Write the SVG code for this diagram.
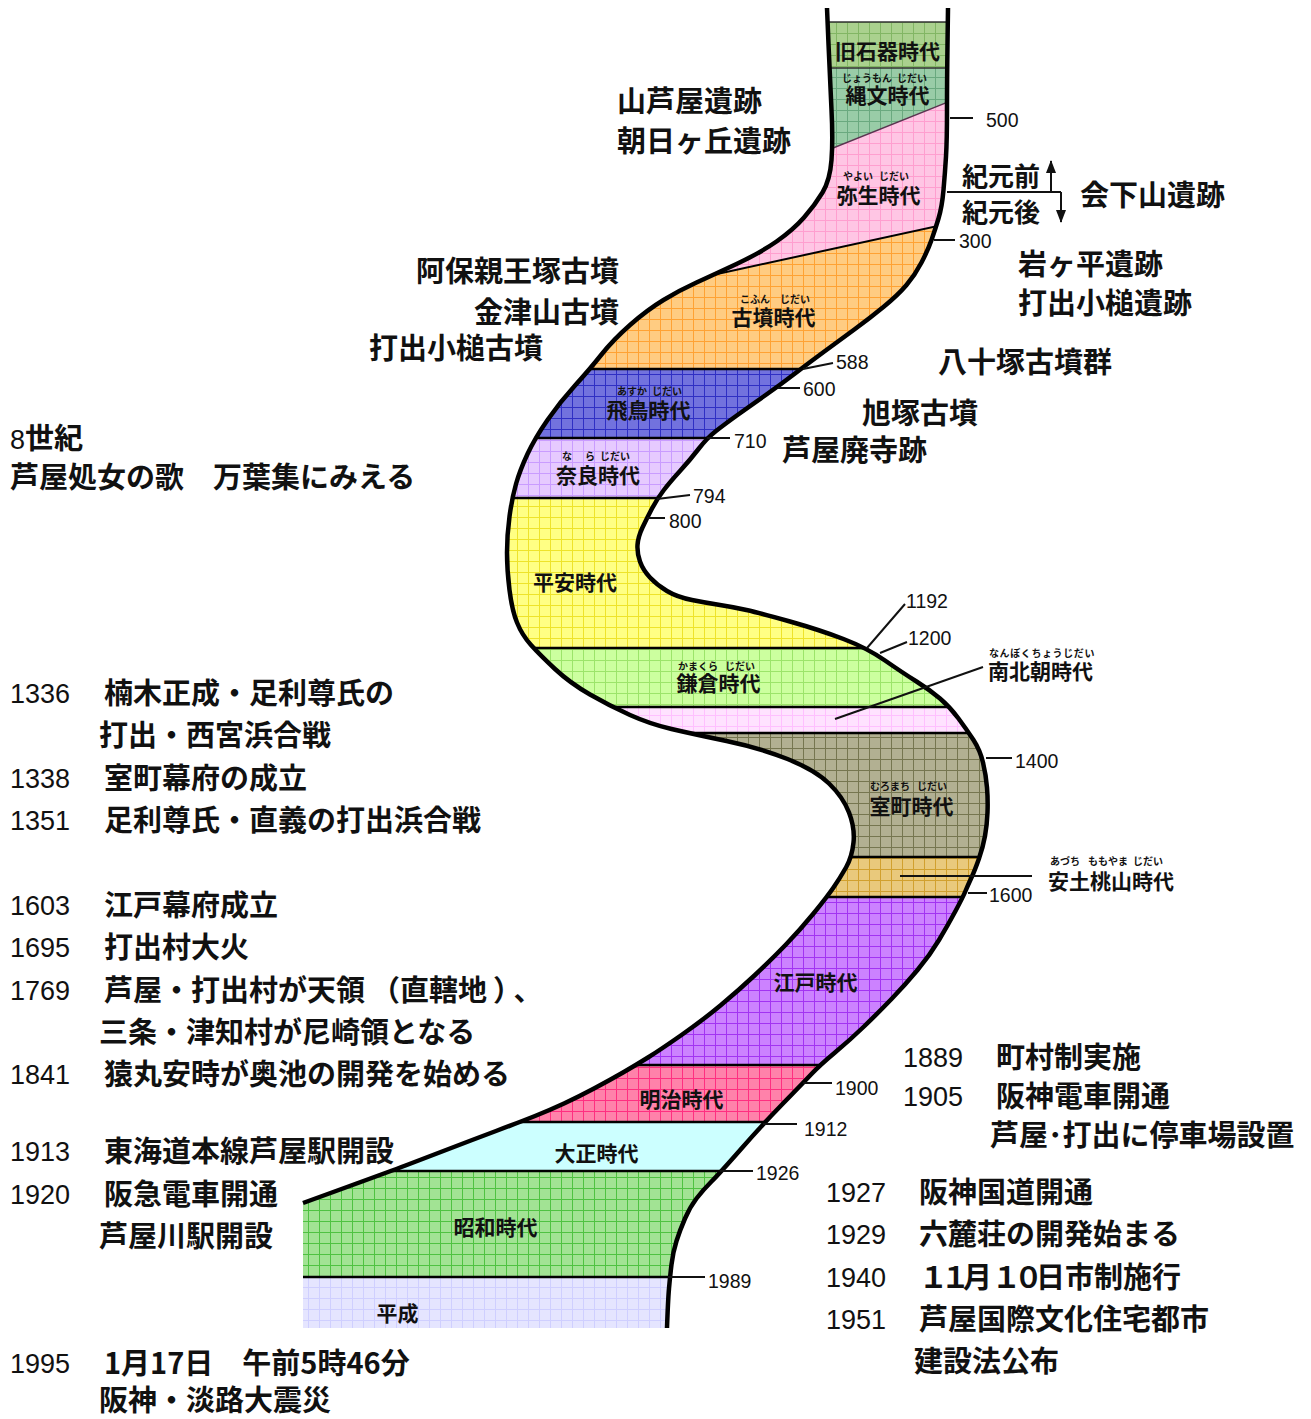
<svg xmlns="http://www.w3.org/2000/svg" width="1311" height="1419" viewBox="0 0 1311 1419">
<style>
.jp{font-family:"Noto Sans CJK JP","Noto Sans CJK SC",sans-serif;font-weight:700;fill:#111}
.ev{font-size:29px}
.era{font-size:21px;text-anchor:middle}
.eraL{font-size:21px}
.rb{font-size:10px}
.yr{font-family:"Liberation Sans",Arial,sans-serif;font-size:27px;fill:#111;font-weight:400}
.tk{font-family:"Liberation Sans",Arial,sans-serif;font-size:19.5px;fill:#111}
.tick{stroke:#111;stroke-width:2;fill:none}
.edge{stroke:#000;stroke-width:4.5;fill:none}
.dv{stroke:#000;stroke-width:2.5}
</style>
<defs>
<clipPath id="cL"><path d="M827,8 L828.5,44 Q830,80 831.5,110 Q833,140 831.5,160 Q830,180 822.5,192.5 Q815,205 804,217.5 Q793,230 776.5,241.5 Q760,253 736.5,264 Q713,275 696.5,282.5 Q680,290 663.5,300 Q647,310 630,325 Q613,340 601.5,354.5 Q590,369 575,385.5 Q560,402 547.5,420 Q535,438 527.5,454 Q520,470 516,484 Q512,498 509.5,516.5 Q507,535 507,552.5 Q507,570 509.5,590 Q512,610 517,622.5 Q522,635 531,645 Q540,655 555,669 Q570,683 590,694.5 Q610,706 630,715 Q650,724 671.5,729 Q693,734 726.5,741 Q760,748 787.5,759 Q815,770 829,783.5 Q843,797 849,812.5 Q855,828 853.5,842.5 Q852,857 846,867.5 Q840,878 833.5,887.5 Q827,897 813.5,913.5 Q800,930 785.5,945 Q771,960 755,975 Q739,990 721,1005 Q703,1020 681.5,1035 Q660,1050 648,1057.5 Q636,1065 623,1072.5 Q610,1080 594,1088.5 Q578,1097 564,1103.5 Q550,1110 535,1116 Q520,1122 496,1131 Q472,1140 446,1150 Q420,1160 405.5,1165.5 Q391,1171 347,1187 L303,1203 L303,1328 L1311,1328 L1311,0 Z"/></clipPath>
<clipPath id="cR"><path d="M948,8 L947.5,44 Q947,80 947,110 Q947,140 946,156.5 Q945,173 943.5,190 Q942,207 938.5,218.5 Q935,230 931.5,240 Q928,250 921.5,262.5 Q915,275 906.5,285 Q898,295 884,306.5 Q870,318 855,329 Q840,340 825,351 Q810,362 795,373.5 Q780,385 765,395.5 Q750,406 737.5,415 Q725,424 716,431 Q707,438 698.5,449 Q690,460 680,471 Q670,482 663.5,490.5 Q657,499 652,508.5 Q647,518 642.5,527.5 Q638,537 637.5,545 Q637,553 640,561.5 Q643,570 650,577.5 Q657,585 667,591 Q677,597 692,600 Q707,603 720,605 Q733,607 746.5,610 Q760,613 790,621.5 Q820,630 843.5,639 Q867,648 885,660.5 Q903,673 916.5,681.5 Q930,690 940,698.5 Q950,707 958.5,718.5 Q967,730 973.5,740 Q980,750 983,762.5 Q986,775 987,787.5 Q988,800 987.5,812.5 Q987,825 985,836 Q983,847 979,858.5 Q975,870 971.5,877.5 Q968,885 965.5,891 Q963,897 955.5,911 Q948,925 939,940 Q930,955 917.5,970 Q905,985 891.5,999 Q878,1013 864,1026.5 Q850,1040 835,1052.5 Q820,1065 811.5,1074 Q803,1083 783,1103.5 Q763,1124 741.5,1148.5 Q720,1173 711.5,1181.5 Q703,1190 696.5,1198.5 Q690,1207 685,1218.5 Q680,1230 676.5,1241 Q673,1252 671.5,1264.5 Q670,1277 669,1288.5 Q668,1300 667,1328 L0,1328 L0,0 Z"/></clipPath>
<pattern id="g1" width="11" height="11" patternUnits="userSpaceOnUse"><rect width="11" height="11" fill="#aad18e"/><path d="M0,0.5H11M0.5,0V11" stroke="#82b664"/></pattern>
<pattern id="g2" width="11" height="11" patternUnits="userSpaceOnUse"><rect width="11" height="11" fill="#99cca7"/><path d="M0,0.5H11M0.5,0V11" stroke="#6aa97f"/></pattern>
<pattern id="g3" width="11" height="11" patternUnits="userSpaceOnUse"><rect width="11" height="11" fill="#ffc6e4"/><path d="M0,0.5H11M0.5,0V11" stroke="#ff9fcf"/></pattern>
<pattern id="g4" width="11" height="11" patternUnits="userSpaceOnUse"><rect width="11" height="11" fill="#ffcc82"/><path d="M0,0.5H11M0.5,0V11" stroke="#ffa234"/></pattern>
<pattern id="g5" width="11" height="11" patternUnits="userSpaceOnUse"><rect width="11" height="11" fill="#7272de"/><path d="M0,0.5H11M0.5,0V11" stroke="#2f2fc4"/></pattern>
<pattern id="g6" width="11" height="11" patternUnits="userSpaceOnUse"><rect width="11" height="11" fill="#e6caff"/><path d="M0,0.5H11M0.5,0V11" stroke="#c99cff"/></pattern>
<pattern id="g7" width="11" height="11" patternUnits="userSpaceOnUse"><rect width="11" height="11" fill="#ffff84"/><path d="M0,0.5H11M0.5,0V11" stroke="#eee32a"/></pattern>
<pattern id="g8" width="11" height="11" patternUnits="userSpaceOnUse"><rect width="11" height="11" fill="#ccff9f"/><path d="M0,0.5H11M0.5,0V11" stroke="#9ce46a"/></pattern>
<pattern id="g9" width="11" height="11" patternUnits="userSpaceOnUse"><rect width="11" height="11" fill="#ffe2ff"/><path d="M0,0.5H11M0.5,0V11" stroke="#ffc0ff"/></pattern>
<pattern id="g10" width="11" height="11" patternUnits="userSpaceOnUse"><rect width="11" height="11" fill="#b2b092"/><path d="M0,0.5H11M0.5,0V11" stroke="#767650"/></pattern>
<pattern id="g11" width="11" height="11" patternUnits="userSpaceOnUse"><rect width="11" height="11" fill="#e9c97c"/><path d="M0,0.5H11M0.5,0V11" stroke="#d1a02e"/></pattern>
<pattern id="g12" width="11" height="11" patternUnits="userSpaceOnUse"><rect width="11" height="11" fill="#cc82ff"/><path d="M0,0.5H11M0.5,0V11" stroke="#a233f2"/></pattern>
<pattern id="g13" width="11" height="11" patternUnits="userSpaceOnUse"><rect width="11" height="11" fill="#ff82aa"/><path d="M0,0.5H11M0.5,0V11" stroke="#ff2f80"/></pattern>
<pattern id="g15" width="11" height="11" patternUnits="userSpaceOnUse"><rect width="11" height="11" fill="#a2e394"/><path d="M0,0.5H11M0.5,0V11" stroke="#4fc242"/></pattern>
<pattern id="g16" width="11" height="11" patternUnits="userSpaceOnUse"><rect width="11" height="11" fill="#e5e5ff"/><path d="M0,0.5H11M0.5,0V11" stroke="#cfcfff"/></pattern>
<marker id="ah" viewBox="0 0 13 10" refX="12" refY="5" markerWidth="13" markerHeight="10" markerUnits="userSpaceOnUse" orient="auto"><path d="M0,0 L13,5 L0,10 Z" fill="#111"/></marker>
</defs>

<g id="bands" clip-path="url(#cL)">
<g clip-path="url(#cR)">
<g id="era-kyusekki"><rect x="780" y="22" width="240" height="46" fill="url(#g1)"/></g>
<g id="era-jomon"><polygon points="780,68 1020,68 1020,73.2 780,181.2" fill="url(#g2)"/></g>
<g id="era-yayoi"><polygon points="650,221.2 1020,73.2 1020,208 650,288.7" fill="url(#g3)"/></g>
<g id="era-kofun"><polygon points="480,325.8 1020,208 1020,369 480,369" fill="url(#g4)"/></g>
<g id="era-asuka"><rect x="400" y="369" width="650" height="69" fill="url(#g5)"/></g>
<g id="era-nara"><rect x="400" y="438" width="650" height="60" fill="url(#g6)"/></g>
<g id="era-heian"><rect x="400" y="498" width="650" height="150" fill="url(#g7)"/></g>
<g id="era-kamakura"><rect x="400" y="648" width="650" height="59" fill="url(#g8)"/></g>
<g id="era-nanbokucho"><rect x="400" y="707" width="650" height="26" fill="url(#g9)"/></g>
<g id="era-muromachi"><rect x="400" y="733" width="650" height="124" fill="url(#g10)"/></g>
<g id="era-azuchimomoyama"><rect x="400" y="857" width="650" height="40" fill="url(#g11)"/></g>
<g id="era-edo"><rect x="250" y="897" width="800" height="168" fill="url(#g12)"/></g>
<g id="era-meiji"><rect x="250" y="1065" width="800" height="57" fill="url(#g13)"/></g>
<g id="era-taisho"><rect x="250" y="1122" width="800" height="49" fill="#ccffff"/></g>
<g id="era-showa"><rect x="250" y="1171" width="800" height="106" fill="url(#g15)"/></g>
<g id="era-heisei"><rect x="250" y="1277" width="800" height="51" fill="url(#g16)"/></g>
<g id="dividers">
<path d="M780,22H1020M780,68H1020" stroke="#333" stroke-width="1.5"/>
<path d="M780,169.2L1020,73.2" stroke="#5a3550" stroke-width="1.5"/>
<path d="M650,288.7L1020,208" stroke="#000" stroke-width="2"/>
<path class="dv" d="M400,369H1050M400,438H1050M400,498H1050M400,648H1050M400,707H1050M400,733H1050M400,857H1050M400,897H1050M250,1065H1050M250,1122H1050M250,1171H1050M250,1277H1050"/>
</g>
</g>
</g>

<g id="edges">
<path class="edge" d="M827,8 L828.5,44 Q830,80 831.5,110 Q833,140 831.5,160 Q830,180 822.5,192.5 Q815,205 804,217.5 Q793,230 776.5,241.5 Q760,253 736.5,264 Q713,275 696.5,282.5 Q680,290 663.5,300 Q647,310 630,325 Q613,340 601.5,354.5 Q590,369 575,385.5 Q560,402 547.5,420 Q535,438 527.5,454 Q520,470 516,484 Q512,498 509.5,516.5 Q507,535 507,552.5 Q507,570 509.5,590 Q512,610 517,622.5 Q522,635 531,645 Q540,655 555,669 Q570,683 590,694.5 Q610,706 630,715 Q650,724 671.5,729 Q693,734 726.5,741 Q760,748 787.5,759 Q815,770 829,783.5 Q843,797 849,812.5 Q855,828 853.5,842.5 Q852,857 846,867.5 Q840,878 833.5,887.5 Q827,897 813.5,913.5 Q800,930 785.5,945 Q771,960 755,975 Q739,990 721,1005 Q703,1020 681.5,1035 Q660,1050 648,1057.5 Q636,1065 623,1072.5 Q610,1080 594,1088.5 Q578,1097 564,1103.5 Q550,1110 535,1116 Q520,1122 496,1131 Q472,1140 446,1150 Q420,1160 405.5,1165.5 Q391,1171 347,1187 L303,1203"/>
<path class="edge" d="M948,8 L947.5,44 Q947,80 947,110 Q947,140 946,156.5 Q945,173 943.5,190 Q942,207 938.5,218.5 Q935,230 931.5,240 Q928,250 921.5,262.5 Q915,275 906.5,285 Q898,295 884,306.5 Q870,318 855,329 Q840,340 825,351 Q810,362 795,373.5 Q780,385 765,395.5 Q750,406 737.5,415 Q725,424 716,431 Q707,438 698.5,449 Q690,460 680,471 Q670,482 663.5,490.5 Q657,499 652,508.5 Q647,518 642.5,527.5 Q638,537 637.5,545 Q637,553 640,561.5 Q643,570 650,577.5 Q657,585 667,591 Q677,597 692,600 Q707,603 720,605 Q733,607 746.5,610 Q760,613 790,621.5 Q820,630 843.5,639 Q867,648 885,660.5 Q903,673 916.5,681.5 Q930,690 940,698.5 Q950,707 958.5,718.5 Q967,730 973.5,740 Q980,750 983,762.5 Q986,775 987,787.5 Q988,800 987.5,812.5 Q987,825 985,836 Q983,847 979,858.5 Q975,870 971.5,877.5 Q968,885 965.5,891 Q963,897 955.5,911 Q948,925 939,940 Q930,955 917.5,970 Q905,985 891.5,999 Q878,1013 864,1026.5 Q850,1040 835,1052.5 Q820,1065 811.5,1074 Q803,1083 783,1103.5 Q763,1124 741.5,1148.5 Q720,1173 711.5,1181.5 Q703,1190 696.5,1198.5 Q690,1207 685,1218.5 Q680,1230 676.5,1241 Q673,1252 671.5,1264.5 Q670,1277 669,1288.5 Q668,1300 667,1328"/>
</g>

<g id="era-labels" class="jp">
<text class="era" x="887.5" y="58.5">旧石器時代</text>
<text class="rb" x="842" y="82">じょうもん</text><text class="rb" x="897" y="82">じだい</text>
<text class="era" x="887.5" y="102.5">縄文時代</text>
<text class="rb" x="843" y="180">やよい</text><text class="rb" x="879" y="180">じだい</text>
<text class="era" x="878.5" y="202.5">弥生時代</text>
<text class="rb" x="740" y="303">こふん</text><text class="rb" x="780" y="303">じだい</text>
<text class="era" x="773.5" y="324.5">古墳時代</text>
<text class="rb" x="617" y="395">あすか</text><text class="rb" x="652" y="395">じだい</text>
<text class="era" x="648.5" y="417.5">飛鳥時代</text>
<text class="rb" x="562" y="460">な</text><text class="rb" x="585" y="460">ら</text><text class="rb" x="600" y="460">じだい</text>
<text class="era" x="598" y="482.5">奈良時代</text>
<text class="era" x="575" y="590">平安時代</text>
<text class="rb" x="678" y="670">かまくら</text><text class="rb" x="725" y="670">じだい</text>
<text class="era" x="718.5" y="690.5">鎌倉時代</text>
<text class="rb" x="870" y="790">むろまち</text><text class="rb" x="917" y="790">じだい</text>
<text class="era" x="911.5" y="813.5">室町時代</text>
<text class="era" x="815.5" y="990">江戸時代</text>
<text class="era" x="681.5" y="1107">明治時代</text>
<text class="era" x="596.5" y="1161">大正時代</text>
<text class="era" x="495.5" y="1235">昭和時代</text>
<text class="era" x="397.5" y="1321">平成</text>
</g>

<g id="label-nanbokucho" class="jp">
<text class="rb" x="989" y="657" letter-spacing="0.6">なんぼくちょうじだい</text>
<text class="eraL" x="988" y="679">南北朝時代</text>
</g>
<g id="label-azuchimomoyama" class="jp">
<text class="rb" x="1050" y="865">あづち</text><text class="rb" x="1088" y="865">ももやま</text><text class="rb" x="1133" y="865">じだい</text>
<text class="eraL" x="1048" y="888.5">安土桃山時代</text>
</g>

<g id="connectors" fill="none" stroke="#111">
<path stroke-width="2" d="M835,719 L983,667"/>
<path stroke-width="2" d="M900,876 H1032"/>
<path stroke-width="2" d="M947,192 H1061"/>
<path stroke-width="2" d="M1051,192 V161" marker-end="url(#ah)"/>
<path stroke-width="2" d="M1061,192 V222" marker-end="url(#ah)"/>
</g>

<g id="ticks">
<path class="tick" d="M950,118H973M934,240H955M803,369L833,363M778,388H800M707,438H730M657,499L690,495M647,518H665M867,648L905,604M880,653L907,642M986,758H1012M968,893H987M803,1083H832M763,1124H797M720,1171H753M668,1277H705"/>
<text class="tk" x="986" y="127">500</text>
<text class="tk" x="959" y="248">300</text>
<text class="tk" x="836" y="369">588</text>
<text class="tk" x="803" y="396">600</text>
<text class="tk" x="734" y="448">710</text>
<text class="tk" x="693" y="503">794</text>
<text class="tk" x="669" y="528">800</text>
<text class="tk" x="906" y="608">1192</text>
<text class="tk" x="908" y="645">1200</text>
<text class="tk" x="1015" y="768">1400</text>
<text class="tk" x="989" y="902">1600</text>
<text class="tk" x="835" y="1095">1900</text>
<text class="tk" x="804" y="1136">1912</text>
<text class="tk" x="756" y="1180">1926</text>
<text class="tk" x="708" y="1288">1989</text>
</g>

<g id="kigen" class="jp">
<text x="962" y="186" font-size="26">紀元前</text>
<text x="962" y="222" font-size="26">紀元後</text>
</g>

<g id="sites" class="jp ev">
<text x="617" y="112">山芦屋遺跡</text>
<text x="617" y="152">朝日ヶ丘遺跡</text>
<text x="1080" y="206">会下山遺跡</text>
<text x="1018" y="275">岩ヶ平遺跡</text>
<text x="1018" y="314">打出小槌遺跡</text>
<text x="416" y="282">阿保親王塚古墳</text>
<text x="474" y="323">金津山古墳</text>
<text x="369" y="359">打出小槌古墳</text>
<text x="938" y="373">八十塚古墳群</text>
<text x="862" y="424">旭塚古墳</text>
<text x="782" y="461">芦屋廃寺跡</text>
<text x="10" y="449"><tspan class="yr">8</tspan>世紀</text>
<text x="10" y="488">芦屋処女の歌　万葉集にみえる</text>
</g>

<g id="events-left">
<text class="yr" x="10" y="703">1336</text><text class="jp ev" x="104" y="704">楠木正成・足利尊氏の</text>
<text class="jp ev" x="99" y="746">打出・西宮浜合戦</text>
<text class="yr" x="10" y="788">1338</text><text class="jp ev" x="104" y="789">室町幕府の成立</text>
<text class="yr" x="10" y="830">1351</text><text class="jp ev" x="104" y="831">足利尊氏・直義の打出浜合戦</text>
<text class="yr" x="10" y="915">1603</text><text class="jp ev" x="104" y="916">江戸幕府成立</text>
<text class="yr" x="10" y="957">1695</text><text class="jp ev" x="104" y="958">打出村大火</text>
<text class="yr" x="10" y="1000">1769</text><text class="jp ev" x="104" y="1001">芦屋・打出村が天<tspan letter-spacing="6">領</tspan>（直轄<tspan letter-spacing="6">地</tspan><tspan letter-spacing="6">）</tspan>、</text>
<text class="jp ev" x="99" y="1043">三条・津知村が尼崎領となる</text>
<text class="yr" x="10" y="1084">1841</text><text class="jp ev" x="104" y="1085">猿丸安時が奥池の開発を始める</text>
<text class="yr" x="10" y="1161">1913</text><text class="jp ev" x="104" y="1162">東海道本線芦屋駅開設</text>
<text class="yr" x="10" y="1204">1920</text><text class="jp ev" x="104" y="1205">阪急電車開通</text>
<text class="jp ev" x="99" y="1247">芦屋川駅開設</text>
<text class="yr" x="10" y="1373">1995</text><text class="jp ev" x="104" y="1374">1月17日　午前5時46分</text>
<text class="jp ev" x="99" y="1411">阪神・淡路大震災</text>
</g>

<g id="events-right">
<text class="yr" x="903" y="1067">1889</text><text class="jp ev" x="996" y="1068">町村制実施</text>
<text class="yr" x="903" y="1106">1905</text><text class="jp ev" x="996" y="1107">阪神電車開通</text>
<text class="jp ev" x="990" y="1146">芦屋･打出に停車場設置</text>
<text class="yr" x="826" y="1202">1927</text><text class="jp ev" x="919" y="1203">阪神国道開通</text>
<text class="yr" x="826" y="1244">1929</text><text class="jp ev" x="919" y="1245">六麓荘の開発始まる</text>
<text class="yr" x="826" y="1287">1940</text><text class="jp ev" x="919" y="1288"><tspan letter-spacing="-7">１１</tspan>月<tspan letter-spacing="-7">１０</tspan>日市制施行</text>
<text class="yr" x="826" y="1329">1951</text><text class="jp ev" x="919" y="1330">芦屋国際文化住宅都市</text>
<text class="jp ev" x="914" y="1372">建設法公布</text>
</g>
</svg>
